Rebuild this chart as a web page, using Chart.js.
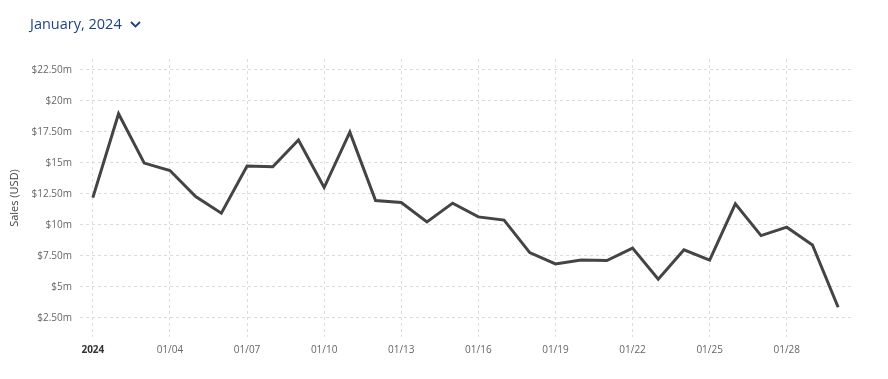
<!DOCTYPE html>
<html>
<head>
<meta charset="utf-8">
<script src="https://cdn.jsdelivr.net/npm/chart.js@4.4.1/dist/chart.umd.min.js"></script>
<style>
  html, body { margin: 0; padding: 0; background: #fff; }
  .wrap { position: relative; width: 888px; height: 379px; }
  .title { position: absolute; left: 30px; top: 14px; font-family: "Open Sans", sans-serif; font-size: 14.5px; color: #1d4289; white-space: nowrap; }
  .title svg { margin-left: 8px; vertical-align: 1px; }
  canvas { position: absolute; left: 0; top: 0; }
</style>
</head>
<body>
<div class="wrap">
  <canvas id="salesChart" width="888" height="379"></canvas>
  <div class="title">January, 2024<svg width="11" height="7" viewBox="0 0 11 7"><polyline points="1,1 5.5,5.5 10,1" fill="none" stroke="#1d4289" stroke-width="1.8"/></svg></div>
</div>
<script>
// daily sales, January 2024 (millions USD)
const days = ['01/01','01/02','01/03','01/04','01/05','01/06','01/07','01/08','01/09','01/10',
              '01/11','01/12','01/13','01/14','01/15','01/16','01/17','01/18','01/19','01/20',
              '01/21','01/22','01/23','01/24','01/25','01/26','01/27','01/28','01/29','01/30'];
const sales = [12.19, 18.95, 14.97, 14.37, 12.27, 10.93, 14.73, 14.67, 16.83, 13.00,
               17.47, 11.95, 11.79, 10.23, 11.74, 10.63, 10.37, 7.75, 6.84, 7.16,
               7.11, 8.11, 5.60, 7.97, 7.14, 11.68, 9.12, 9.80, 8.37, 3.34];
const yTicks = [2.5, 5, 7.5, 10, 12.5, 15, 17.5, 20, 22.5];
const firstTickLabel = '2024';

const gridCol = '#dcdcdc';

new Chart(document.getElementById('salesChart'), {
    type: 'line',
    data: { labels: days, datasets: [{ label: 'Sales', data: sales, borderColor: '#444444', borderWidth: 3, pointRadius: 0, tension: 0, fill: false }] },
    options: {
        responsive: false,
        animation: false,
        layout: { padding: { left: 0, right: 37, top: 59, bottom: 0 } },
        plugins: { legend: { display: false }, tooltip: { enabled: false } },
        scales: {
            x: {
                offset: true,
                afterFit: s => { s.height = 42; },
                border: { display: false, dash: [3, 3] },
                grid: { offset: false, drawTicks: false, color: c => c.index % 3 === 0 ? gridCol : 'transparent' },
                ticks: {
                    autoSkip: false, maxRotation: 0, padding: 7,
                    callback: (v, i) => i % 3 === 0 ? (i === 0 ? firstTickLabel : days[i]) : '',
                    color: c => c.index === 0 ? '#333' : '#666',
                    font: c => ({ family: '"Open Sans", sans-serif', size: 10, weight: c.index === 0 ? 'bold' : 'normal' })
                }
            },
            y: {
                min: 0.94, max: 23.37,
                afterFit: s => { s.width = 80; },
                afterBuildTicks: s => { s.ticks = yTicks.map(v => ({ value: v })); },
                border: { display: false, dash: [3, 3] },
                grid: { drawTicks: false, color: gridCol },
                title: { display: true, text: 'Sales (USD)', color: '#444', font: { family: '"Open Sans", sans-serif', size: 11 }, padding: { top: 8, bottom: 0 } },
                ticks: {
                    padding: 8, color: '#666', font: { family: '"Open Sans", sans-serif', size: 10 },
                    callback: v => '$' + (Number.isInteger(v) ? v : v.toFixed(2)) + 'm'
                }
            }
        }
    }
});
</script>
</body>
</html>
